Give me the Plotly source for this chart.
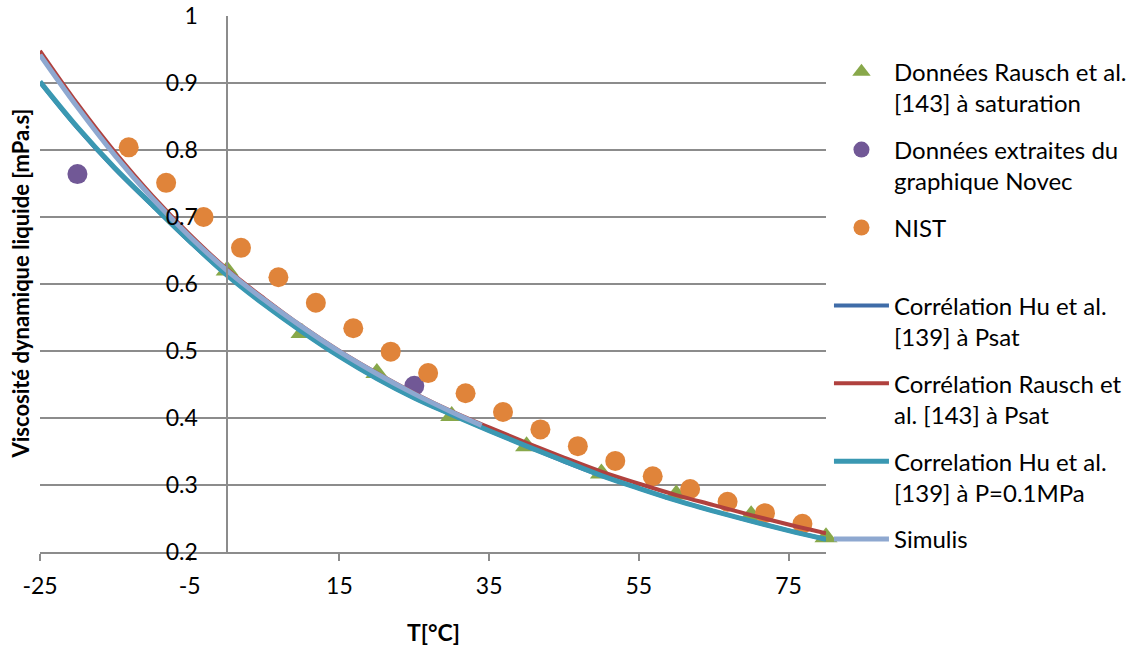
import plotly.graph_objects as go

# ---------------- data ----------------
T_grid = [-25, -20, -15, -10, -5, 0, 5, 10, 15, 20, 25, 30, 35, 40, 45, 50, 55, 60, 65, 70, 75, 80]

hu_psat = [0.901, 0.833, 0.772, 0.717, 0.663, 0.613, 0.569, 0.529, 0.492, 0.459, 0.430, 0.405, 0.381, 0.358, 0.335, 0.314, 0.295, 0.277, 0.261, 0.246, 0.232, 0.219]
rausch_corr = [0.948, 0.869, 0.797, 0.732, 0.674, 0.622, 0.578, 0.537, 0.500, 0.467, 0.437, 0.410, 0.386, 0.363, 0.341, 0.320, 0.302, 0.285, 0.270, 0.255, 0.241, 0.228]
hu_01mpa = [0.902, 0.834, 0.773, 0.718, 0.664, 0.613, 0.569, 0.529, 0.492, 0.459, 0.430, 0.405, 0.381, 0.358, 0.336, 0.314, 0.295, 0.277, 0.261, 0.246, 0.232, 0.219]

simulis_T = [-25, -20, -15, -10, -5, 0, 5, 10, 15, 20, 25, 30, 34]
simulis_v = [0.942, 0.864, 0.792, 0.728, 0.671, 0.620, 0.576, 0.536, 0.499, 0.466, 0.436, 0.409, 0.389]

rausch_T = [0, 10, 20, 30, 40, 50, 60, 70, 80]
rausch_v = [0.620, 0.527, 0.467, 0.403, 0.358, 0.317, 0.286, 0.255, 0.222]

novec_T = [-20, 25]
novec_v = [0.764, 0.448]

nist_T = [-13.15, -8.15, -3.15, 1.85, 6.85, 11.85, 16.85, 21.85, 26.85, 31.85,
          36.85, 41.85, 46.85, 51.85, 56.85, 61.85, 66.85, 71.85, 76.85]
nist_v = [0.804, 0.751, 0.700, 0.654, 0.610, 0.572, 0.534, 0.499, 0.467, 0.437,
          0.409, 0.383, 0.358, 0.336, 0.313, 0.294, 0.275, 0.258, 0.242]

x_tick_vals = [-25, -5, 15, 35, 55, 75]
x_tick_text = ["-25", "-5", "15", "35", "55", "75"]
y_tick_vals = [0.2, 0.3, 0.4, 0.5, 0.6, 0.7, 0.8, 0.9, 1.0]
y_tick_text = ["0.2", "0.3", "0.4", "0.5", "0.6", "0.7", "0.8", "0.9", "1"]

names = [
    "Données Rausch et al.<br>[143] à saturation",
    "Données extraites du<br>graphique Novec",
    "NIST<br> ",
    "Corrélation Hu et al.<br>[139] à Psat",
    "Corrélation Rausch et<br>al. [143] à Psat",
    "Correlation Hu et al.<br>[139] à P=0.1MPa",
    "Simulis",
]

X_RANGE = [-25, 80]
Y_RANGE = [0.2, 1.0]
FONT = "Lato"
GRID = "#8c8c8c"

W, H = 1139, 646

fig = go.Figure()

fig.add_trace(go.Scatter(x=rausch_T, y=rausch_v, mode="markers", name=names[0],
                         marker=dict(symbol="triangle-up", size=20, color="#88A84A"),
                         cliponaxis=False, legendgroup="g1"))
fig.add_trace(go.Scatter(x=novec_T, y=novec_v, mode="markers", name=names[1],
                         marker=dict(symbol="circle", size=20, color="#715896"),
                         cliponaxis=False, legendgroup="g2"))
fig.add_trace(go.Scatter(x=nist_T, y=nist_v, mode="markers", name=names[2],
                         marker=dict(symbol="circle", size=20, color="#E0843A"),
                         cliponaxis=False, legendgroup="g3"))
fig.add_trace(go.Scatter(x=T_grid, y=hu_psat, mode="lines", name=names[3],
                         line=dict(color="#3F6CA8", width=4, shape="spline"), legendgroup="g4"))
fig.add_trace(go.Scatter(x=T_grid, y=rausch_corr, mode="lines", name=names[4],
                         line=dict(color="#B0413E", width=4, shape="spline"), legendgroup="g5"))
fig.add_trace(go.Scatter(x=T_grid, y=hu_01mpa, mode="lines", name=names[5],
                         line=dict(color="#3A98B2", width=5, shape="spline"), legendgroup="g6"))
fig.add_trace(go.Scatter(x=simulis_T, y=simulis_v, mode="lines", name=names[6],
                         line=dict(color="#8EA8D0", width=5, shape="spline"), legendgroup="g7"))

fig.update_layout(
    width=W, height=H,
    margin=dict(l=40, r=313, t=16, b=94, autoexpand=False),
    paper_bgcolor="white", plot_bgcolor="white",
    font=dict(family=FONT, size=23, color="black"),
    showlegend=True,
    legend=dict(
        xref="container", yref="container",
        x=0.7278, y=0.9232, xanchor="left", yanchor="top",
        font=dict(family=FONT, size=24, color="black"),
        valign="top", itemwidth=55, tracegroupgap=12.5,
        maxheight=620,
        bgcolor="rgba(0,0,0,0)",
    ),
    xaxis=dict(
        range=X_RANGE, tickvals=x_tick_vals, ticktext=x_tick_text,
        showgrid=False, zeroline=False, automargin=False,
        showline=True, linecolor=GRID, linewidth=1.5,
        ticks="outside", ticklen=7, tickcolor=GRID, tickwidth=1.5,
        ticklabelstandoff=6,
        tickfont=dict(family=FONT, size=23),
    ),
    yaxis=dict(
        range=Y_RANGE, tickvals=y_tick_vals, ticktext=y_tick_text,
        anchor="free", position=(0 - X_RANGE[0]) / (X_RANGE[1] - X_RANGE[0]),
        showgrid=True, gridcolor=GRID, gridwidth=1.5,
        zeroline=False, automargin=False,
        showline=True, linecolor=GRID, linewidth=1.5,
        ticks="", ticklabelstandoff=24,
        tickfont=dict(family=FONT, size=23),
    ),
    annotations=[
        dict(text="<b>T[°C]</b>", xref="paper", yref="paper",
             x=0.5, y=-0.149, yanchor="middle", xanchor="center", showarrow=False,
             font=dict(family=FONT, size=23)),
        dict(text="<b>Viscosité dynamique liquide [mPa.s]</b>", xref="paper", yref="paper",
             x=-0.026, y=0.5, xanchor="center", yanchor="middle", textangle=-90, showarrow=False,
             font=dict(family=FONT, size=22)),
    ],
)

# remove the default 8px page margin so the figure fills the window exactly
fig.write_html("out.html",
               config={"displayModeBar": False},
               post_script="document.body.style.margin='0';document.body.style.overflow='hidden';")
